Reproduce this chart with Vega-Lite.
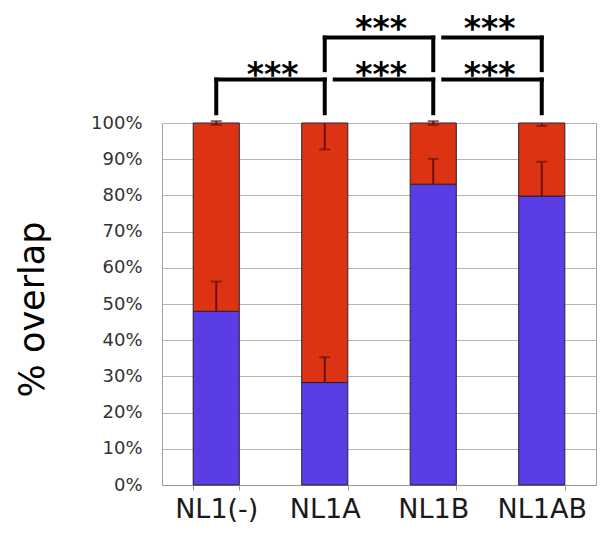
{
  "$schema": "https://vega.github.io/schema/vega-lite/v6.json",
  "autosize": "none",
  "width": 434,
  "height": 362,
  "padding": {"left": 162, "top": 123, "right": 11, "bottom": 54},
  "background": "white",
  "config": {
    "view": {"stroke": "#a0a0a0", "strokeWidth": 1},
    "font": "DejaVu Sans",
    "axisX": {
      "labelAngle": 0, "labelFontSize": 27, "labelColor": "#1a1a1a",
      "labelPadding": 6, "tickBand": "extent", "tickSize": 5, "tickColor": "#999",
      "domainColor": "#999", "grid": false
    },
    "axisY": {
      "titleFontSize": 35, "titleFontWeight": "normal", "titleColor": "#000",
      "titleX": -130, "titleY": 186, "titleAngle": -90, "titleAlign": "center", "titleBaseline": "middle",
      "labelOverlap": false, "labelFontSize": 18, "labelColor": "#333", "labelPadding": 20,
      "ticks": false, "domain": false, "grid": true, "gridColor": "#b4b4b4", "gridWidth": 1
    }
  },
  "datasets": {
    "bars": [
      {"cat": "NL1(-)", "seg": "overlap", "value": 0.48},
      {"cat": "NL1(-)", "seg": "no overlap", "value": 0.52},
      {"cat": "NL1A", "seg": "overlap", "value": 0.283},
      {"cat": "NL1A", "seg": "no overlap", "value": 0.717},
      {"cat": "NL1B", "seg": "overlap", "value": 0.831},
      {"cat": "NL1B", "seg": "no overlap", "value": 0.169},
      {"cat": "NL1AB", "seg": "overlap", "value": 0.798},
      {"cat": "NL1AB", "seg": "no overlap", "value": 0.202}
    ],
    "errs": [
      {"cat": "NL1(-)", "lo": 0.995, "hi": 1.005},
      {"cat": "NL1(-)", "lo": 0.48, "hi": 0.562},
      {"cat": "NL1A", "lo": 0.927, "hi": 1.0},
      {"cat": "NL1A", "lo": 0.283, "hi": 0.353},
      {"cat": "NL1B", "lo": 0.995, "hi": 1.005},
      {"cat": "NL1B", "lo": 0.831, "hi": 0.901},
      {"cat": "NL1AB", "lo": 0.992, "hi": 1.0},
      {"cat": "NL1AB", "lo": 0.798, "hi": 0.893}
    ],
    "caps": [
      {"cat": "NL1(-)", "y": 0.995},
      {"cat": "NL1(-)", "y": 1.005},
      {"cat": "NL1(-)", "y": 0.562},
      {"cat": "NL1A", "y": 0.927},
      {"cat": "NL1A", "y": 0.353},
      {"cat": "NL1B", "y": 0.995},
      {"cat": "NL1B", "y": 1.005},
      {"cat": "NL1B", "y": 0.901},
      {"cat": "NL1AB", "y": 0.992},
      {"cat": "NL1AB", "y": 0.893}
    ],
    "hlines": [
      {"cat": "NL1(-)", "to": "NL1A", "y": 1.12, "gap": false},
      {"cat": "NL1A", "to": "NL1B", "y": 1.12, "gap": true},
      {"cat": "NL1B", "to": "NL1AB", "y": 1.12, "gap": true},
      {"cat": "NL1A", "to": "NL1B", "y": 1.236, "gap": false},
      {"cat": "NL1B", "to": "NL1AB", "y": 1.236, "gap": true}
    ],
    "vlines": [
      {"cat": "NL1(-)", "lo": 1.027, "hi": 1.12},
      {"cat": "NL1A", "lo": 1.027, "hi": 1.12},
      {"cat": "NL1A", "lo": 1.146, "hi": 1.236},
      {"cat": "NL1B", "lo": 1.027, "hi": 1.12},
      {"cat": "NL1B", "lo": 1.146, "hi": 1.236},
      {"cat": "NL1AB", "lo": 1.027, "hi": 1.12},
      {"cat": "NL1AB", "lo": 1.146, "hi": 1.236}
    ],
    "stars": [
      {"cat": "NL1A", "y": 1.103, "label": "***"},
      {"cat": "NL1B", "y": 1.103, "label": "***"},
      {"cat": "NL1B", "y": 1.228, "label": "***"},
      {"cat": "NL1AB", "y": 1.103, "label": "***"},
      {"cat": "NL1AB", "y": 1.228, "label": "***"}
    ]
  },
  "encoding": {
    "x": {
      "field": "cat", "type": "nominal",
      "scale": {"domain": ["NL1(-)", "NL1A", "NL1B", "NL1AB"], "paddingInner": 0.575, "paddingOuter": 0.2875},
      "axis": {"title": null}
    }
  },
  "layer": [
    {
      "data": {"name": "bars"},
      "mark": {"type": "bar", "stroke": "#2a2030", "strokeWidth": 1},
      "encoding": {
        "y": {
          "field": "value", "type": "quantitative", "stack": "zero",
          "scale": {"domain": [0, 1], "nice": false},
          "axis": {"title": "% overlap", "format": ".0%", "values": [0, 0.1, 0.2, 0.3, 0.4, 0.5, 0.6, 0.7, 0.8, 0.9, 1.0]}
        },
        "color": {
          "field": "seg", "type": "nominal",
          "scale": {"domain": ["overlap", "no overlap"], "range": ["#5a3de4", "#dc3412"]},
          "legend": null
        },
        "order": {"field": "seg", "sort": "descending"}
      }
    },
    {
      "data": {"name": "errs"},
      "mark": {"type": "rule", "color": "#6e1010", "strokeWidth": 2},
      "encoding": {
        "y": {"field": "lo", "type": "quantitative", "axis": {"title": "% overlap", "format": ".0%", "values": [0, 0.1, 0.2, 0.3, 0.4, 0.5, 0.6, 0.7, 0.8, 0.9, 1.0]}},
        "y2": {"field": "hi"}
      }
    },
    {
      "data": {"name": "caps"},
      "mark": {"type": "tick", "orient": "horizontal", "color": "#6e1010", "size": 11, "thickness": 2},
      "encoding": {
        "y": {"field": "y", "type": "quantitative", "axis": {"title": "% overlap", "format": ".0%", "values": [0, 0.1, 0.2, 0.3, 0.4, 0.5, 0.6, 0.7, 0.8, 0.9, 1.0]}}
      }
    },
    {
      "data": {"name": "hlines"},
      "transform": [{"filter": "!datum.gap"}],
      "mark": {"type": "rule", "color": "#000", "strokeWidth": 4, "strokeCap": "square"},
      "encoding": {
        "x2": {"field": "to"},
        "y": {"field": "y", "type": "quantitative", "axis": {"title": "% overlap", "format": ".0%", "values": [0, 0.1, 0.2, 0.3, 0.4, 0.5, 0.6, 0.7, 0.8, 0.9, 1.0]}}
      }
    },
    {
      "data": {"name": "hlines"},
      "transform": [{"filter": "datum.gap"}],
      "mark": {"type": "rule", "color": "#000", "strokeWidth": 4, "strokeCap": "square", "xOffset": 10, "x2Offset": 0},
      "encoding": {
        "x2": {"field": "to"},
        "y": {"field": "y", "type": "quantitative", "axis": {"title": "% overlap", "format": ".0%", "values": [0, 0.1, 0.2, 0.3, 0.4, 0.5, 0.6, 0.7, 0.8, 0.9, 1.0]}}
      }
    },
    {
      "data": {"name": "vlines"},
      "mark": {"type": "rule", "color": "#000", "strokeWidth": 4, "strokeCap": "square"},
      "encoding": {
        "y": {"field": "lo", "type": "quantitative", "axis": {"title": "% overlap", "format": ".0%", "values": [0, 0.1, 0.2, 0.3, 0.4, 0.5, 0.6, 0.7, 0.8, 0.9, 1.0]}},
        "y2": {"field": "hi"}
      }
    },
    {
      "data": {"name": "stars"},
      "mark": {"type": "text", "font": "DejaVu Sans", "fontSize": 33, "fontWeight": "bold", "color": "#000", "align": "center", "baseline": "alphabetic", "dx": -52},
      "encoding": {
        "y": {"field": "y", "type": "quantitative", "axis": {"title": "% overlap", "format": ".0%", "values": [0, 0.1, 0.2, 0.3, 0.4, 0.5, 0.6, 0.7, 0.8, 0.9, 1.0]}},
        "text": {"field": "label"}
      }
    }
  ]
}
